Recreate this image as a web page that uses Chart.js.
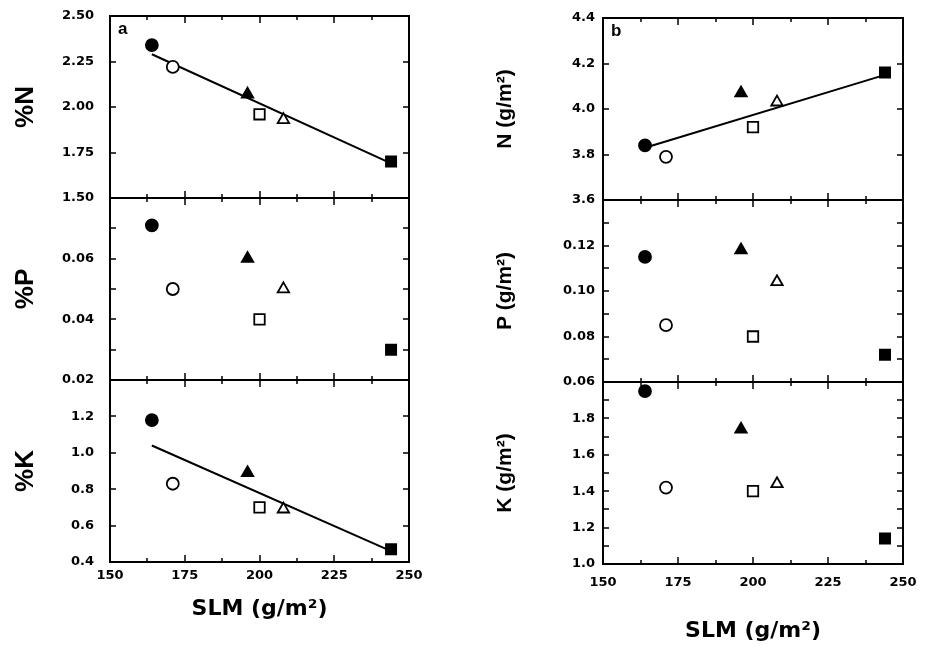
<!DOCTYPE html>
<html><head><meta charset="utf-8">
<script src="https://cdn.jsdelivr.net/npm/chart.js@4.4.1/dist/chart.umd.min.js"></script>
<style>
html,body{margin:0;padding:0;background:#fff;}
body{width:931px;height:650px;position:relative;overflow:hidden;}
canvas{position:absolute;}
</style></head><body>
<canvas id="pa0"></canvas><canvas id="pa1"></canvas><canvas id="pa2"></canvas>
<canvas id="pb0"></canvas><canvas id="pb1"></canvas><canvas id="pb2"></canvas>
<script>
// ---- data ----
const slm   = [164, 171, 196, 200, 208, 244];          // SLM (g/m2)
const pctN  = [2.34, 2.22, 2.07, 1.96, 1.93, 1.70];
const pctP  = [0.071, 0.050, 0.060, 0.040, 0.050, 0.030];
const pctK  = [1.18, 0.83, 0.89, 0.70, 0.69, 0.47];
const areaN = [3.84, 3.79, 4.07, 3.92, 4.03, 4.16];
const areaP = [0.115, 0.085, 0.118, 0.080, 0.104, 0.072];
const areaK = [1.95, 1.42, 1.74, 1.40, 1.44, 1.14];
const fitX      = [164, 244];
const fitPctN   = [2.29, 1.69];
const fitPctK   = [1.04, 0.46];
const fitAreaN  = [3.83, 4.15];
// tick labels
const xTickLabels   = ['150', '175', '200', '225', '250'];
const yLabelsPctN   = ['2.50', '2.25', '2.00', '1.75', '1.50'];
const yLabelsPctP   = ['0.06', '0.04', '0.02'];
const yLabelsPctK   = ['1.2', '1.0', '0.8', '0.6', '0.4'];
const yLabelsAreaN  = ['4.4', '4.2', '4.0', '3.8', '3.6'];
const yLabelsAreaP  = ['0.12', '0.10', '0.08', '0.06'];
const yLabelsAreaK  = ['1.8', '1.6', '1.4', '1.2', '1.0'];

// ---- marker styles (per treatment) ----
const markerShape  = ['circle', 'circle', 'triangle', 'rect', 'triangle', 'rect'];
const markerFill   = ['#000', '#fff', '#000', '#fff', '#fff', '#000'];
const markerRadius = [6, 6, 6.6, 7.4, 6.6, 7.2];

const TICK_FONT = {family: '"DejaVu Sans", sans-serif', weight: 'bold', size: 13};

const framePlugin = {
  id: 'frame',
  beforeDatasetsDraw(chart, args, o) {
    const {ctx, chartArea: a, scales: {x, y}} = chart;
    ctx.save();
    ctx.strokeStyle = '#000';
    ctx.lineWidth = 1.5;
    ctx.beginPath();
    x.ticks.forEach(t => {
      const v = t.value;
      if (v <= x.min + 1e-9 || v >= x.max - 1e-9) return;
      const px = Math.round(x.getPixelForValue(v));
      const len = Math.abs(v % 25) < 1e-6 ? 7 : 4;
      ctx.moveTo(px, a.top); ctx.lineTo(px, a.top + len);
      ctx.moveTo(px, a.bottom); ctx.lineTo(px, a.bottom - len);
    });
    y.ticks.forEach(t => {
      const v = t.value;
      if (v <= y.min + 1e-9 || v >= y.max - 1e-9) return;
      const py = Math.round(y.getPixelForValue(v));
      ctx.moveTo(a.left, py); ctx.lineTo(a.left + 6, py);
      ctx.moveTo(a.right, py); ctx.lineTo(a.right - 6, py);
    });
    ctx.stroke();
    ctx.lineWidth = 2;
    ctx.strokeRect(a.left, a.top, a.right - a.left, a.bottom - a.top);
    if (o && o.label) {
      ctx.fillStyle = '#000';
      ctx.font = 'bold 17px "Liberation Sans", Arial, sans-serif';
      ctx.textBaseline = 'alphabetic';
      ctx.fillText(o.label, a.left + 8, a.top + 18);
    }
    ctx.restore();
  }
};

function zeroPad(s) { s.paddingLeft = 0; s.paddingRight = 0; s.paddingTop = 0; s.paddingBottom = 0; }

function makePanel(id, g, p) {
  const cv = document.getElementById(id);
  cv.width = g.w; cv.height = g.h;
  cv.style.left = g.left + 'px'; cv.style.top = g.top + 'px';
  const datasets = [{
    type: 'scatter',
    data: slm.map((v, i) => ({x: v, y: p.values[i]})),
    pointStyle: markerShape,
    pointRadius: markerRadius,
    pointBackgroundColor: markerFill,
    pointBorderColor: '#000',
    pointBorderWidth: 1.8,
    showLine: false,
    order: 1
  }];
  if (p.fit) {
    datasets.push({
      type: 'line',
      data: fitX.map((v, i) => ({x: v, y: p.fit[i]})),
      borderColor: '#000', borderWidth: 2, pointRadius: 0,
      fill: false, tension: 0, order: 2
    });
  }
  return new Chart(cv, {
    type: 'scatter',
    data: {datasets},
    plugins: [framePlugin],
    options: {
      responsive: false, animation: false, devicePixelRatio: 1,
      events: [],
      layout: {padding: {top: 12, right: g.padR, bottom: g.padB, left: 0}},
      plugins: {legend: {display: false}, tooltip: {enabled: false}, frame: {label: p.label}},
      scales: {
        x: {
          type: 'linear', min: 150, max: 250,
          grid: {display: false, drawTicks: false}, border: {display: false},
          ticks: {
            display: !!g.xLabels, stepSize: 12.5, autoSkip: false, maxRotation: 0,
            padding: g.xPad || 0, font: TICK_FONT, color: '#000',
            callback: v => { const s = String(Math.round(v * 10) / 10); return xTickLabels.includes(s) ? s : ''; }
          },
          title: g.xLabels ? {display: true, text: 'SLM (g/m²)', color: '#000',
            font: {family: '"DejaVu Sans", sans-serif', weight: 'bold', size: 22}, padding: {top: 0, bottom: 0}} : {display: false},
          afterFit: s => { s.height = g.xH; zeroPad(s); }
        },
        y: {
          type: 'linear', min: p.min, max: p.max,
          grid: {display: false, drawTicks: false}, border: {display: false},
          ticks: {
            stepSize: p.step, autoSkip: false, padding: g.yPad, font: TICK_FONT, color: '#000',
            callback: v => { const s = v.toFixed(p.dec); return p.labels.includes(s) ? s : ''; }
          },
          title: {display: true, text: p.title, color: '#000', font: p.titleFont, padding: {top: g.titlePad, bottom: 0}},
          afterFit: s => { s.width = g.yW; zeroPad(s); }
        }
      }
    }
  });
}

const leftTitleFont  = {family: '"Liberation Sans", Arial, sans-serif', weight: 'bold', size: 26};
const rightTitleFont = {family: '"Liberation Sans Narrow", "Liberation Sans", Arial, sans-serif', weight: 'bold', size: 21};

const gL = (top, h, bottomRow) => ({left: 0, top, w: 440, h, padR: 31, padB: bottomRow ? 4 : 12,
  xH: bottomRow ? 60 : 0, xLabels: bottomRow, xPad: 6, yW: 110, yPad: 16, titlePad: 10});
const gR = (top, h, bottomRow) => ({left: 480, top, w: 450, h, padR: 27, padB: bottomRow ? 4 : 12,
  xH: bottomRow ? 80 : 0, xLabels: bottomRow, xPad: 11, yW: 123, yPad: 8, titlePad: 13});

makePanel('pa0', gL(4, 206, false),   {values: pctN, fit: fitPctN, min: 1.5, max: 2.5, step: 0.25, dec: 2, labels: yLabelsPctN, title: '%N', titleFont: leftTitleFont, label: 'a'});
makePanel('pa1', gL(186, 206, false), {values: pctP, min: 0.02, max: 0.08, step: 0.01, dec: 2, labels: yLabelsPctP, title: '%P', titleFont: leftTitleFont});
makePanel('pa2', gL(368, 258, true),  {values: pctK, fit: fitPctK, min: 0.4, max: 1.4, step: 0.2, dec: 1, labels: yLabelsPctK, title: '%K', titleFont: leftTitleFont});

makePanel('pb0', gR(6, 206, false),   {values: areaN, fit: fitAreaN, min: 3.6, max: 4.4, step: 0.2, dec: 1, labels: yLabelsAreaN, title: 'N (g/m²)', titleFont: rightTitleFont, label: 'b'});
makePanel('pb1', gR(188, 206, false), {values: areaP, min: 0.06, max: 0.14, step: 0.01, dec: 2, labels: yLabelsAreaP, title: 'P (g/m²)', titleFont: rightTitleFont});
makePanel('pb2', gR(370, 278, true),  {values: areaK, min: 1.0, max: 2.0, step: 0.1, dec: 1, labels: yLabelsAreaK, title: 'K (g/m²)', titleFont: rightTitleFont});
</script>
</body></html>
